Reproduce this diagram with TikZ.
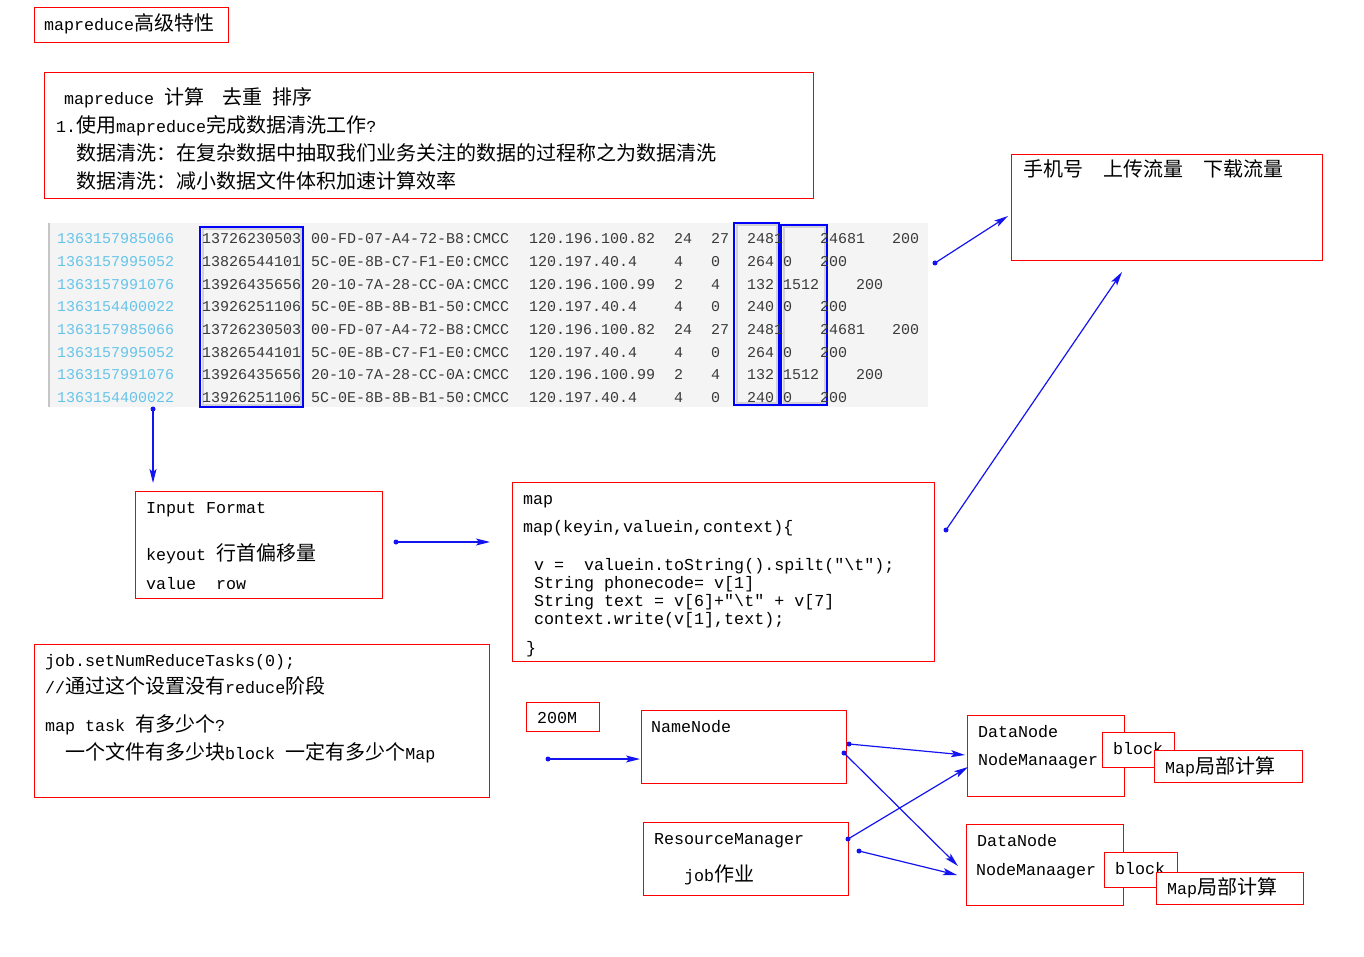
\documentclass[tikz,border=0pt]{standalone}
\usepackage{fontspec}
\setmainfont{Liberation Mono}[Ligatures=TeXOff]
\newfontfamily\cjk{Noto Sans CJK SC}[Scale=1.2]
\usetikzlibrary{arrows.meta,fit}
\newcommand\zh[1]{{\cjk #1}}
\newcommand\dq{\char34\relax}
\definecolor{boxred}{HTML}{FF0000}
\definecolor{arrowblue}{HTML}{1414F0}
\definecolor{tsblue}{HTML}{66C4EA}
\definecolor{tabgray}{HTML}{F4F4F4}
\definecolor{tabtext}{HTML}{3A3A3A}
\begin{document}
\begin{tikzpicture}[x=1pt,y=-1pt,
  redbox/.style={draw=boxred, line width=1pt, fill=white, inner sep=0pt},
  txt/.style={anchor=base west, inner sep=0pt, font=\fontsize{16.67}{20}\selectfont},
  tab/.style={anchor=base west, inner sep=0pt, font=\fontsize{15}{18}\selectfont, text=tabtext},
  hlbox/.style={draw=blue, line width=1.3pt},
  arr/.style={draw=arrowblue, line width=1.2pt, -{Stealth[length=14pt,width=7pt,inset=3pt]}},
  dotmark/.style={circle, fill=arrowblue, inner sep=0pt, minimum size=5pt}]
\useasboundingbox (0,0) rectangle (1364,957);
\fill[white] (0,0) rectangle (1364,957);

% title
\node[redbox, fit={(34,8) (228,43)}] (title) {};
\node[txt] (titletxt) at (44,31) {mapreduce\zh{高级特性}};

% intro box
\node[redbox, fit={(44,73) (813,199)}] (intro) {};
\node[txt] (l1) at (64,105) {mapreduce\hspace{10pt}\zh{计算}\hspace{18pt}\zh{去重}\hspace{10pt}\zh{排序}};
\node[txt] (l2) at (56,133) {1.\zh{使用}mapreduce\zh{完成数据清洗工作}?};
\node[txt] (l3) at (76,161) {\zh{数据清洗：在复杂数据中抽取我们业务关注的数据的过程称之为数据清洗}};
\node[txt] (l4) at (76,189) {\zh{数据清洗：减小数据文件体积加速计算效率}};

% table
\fill[tabgray] (48,223) rectangle (928,407);
\draw[gray!45, line width=1.5pt] (49,223) -- (49,407);
\draw[gray!60, line width=2pt, opacity=0.5] (202.5,229.5) rectangle (300.5,404.5);
\draw[gray!60, line width=2pt, opacity=0.5] (736.5,225.5) rectangle (776.5,402.5);
\draw[gray!60, line width=2pt, opacity=0.5] (783.5,227.5) rectangle (824.5,402.5);
\node[hlbox, inner sep=0pt, fit={(200,227) (303,407)}] (hlphone) {};
\node[hlbox, inner sep=0pt, fit={(734,223) (779,405)}] (hlup) {};
\node[hlbox, inner sep=0pt, fit={(781,225) (827,405)}] (hldown) {};

\foreach \r/\ts/\ph/\mac/\ip/\a/\b/\c in {
  1/1363157985066/13726230503/00-FD-07-A4-72-B8:CMCC/120.196.100.82/24/27/2481,
  2/1363157995052/13826544101/5C-0E-8B-C7-F1-E0:CMCC/120.197.40.4/4/0/264,
  3/1363157991076/13926435656/20-10-7A-28-CC-0A:CMCC/120.196.100.99/2/4/132,
  4/1363154400022/13926251106/5C-0E-8B-8B-B1-50:CMCC/120.197.40.4/4/0/240,
  5/1363157985066/13726230503/00-FD-07-A4-72-B8:CMCC/120.196.100.82/24/27/2481,
  6/1363157995052/13826544101/5C-0E-8B-C7-F1-E0:CMCC/120.197.40.4/4/0/264,
  7/1363157991076/13926435656/20-10-7A-28-CC-0A:CMCC/120.196.100.99/2/4/132,
  8/1363154400022/13926251106/5C-0E-8B-8B-B1-50:CMCC/120.197.40.4/4/0/240}{
  \pgfmathsetmacro\yy{239+22.65*(\r-1)+5}
  \node[tab, text=tsblue] (ts\r) at (57,\yy) {\ts};
  \node[tab] (ph\r) at (202,\yy) {\ph};
  \node[tab] (mac\r) at (311,\yy) {\mac};
  \node[tab] (ip\r) at (529,\yy) {\ip};
  \node[tab] (ca\r) at (674,\yy) {\a};
  \node[tab] (cb\r) at (711,\yy) {\b};
  \node[tab] (cc\r) at (747,\yy) {\c};
}
\foreach \r/\x/\t/\n in {
  1/820/24681/a, 1/892/200/b, 2/783/0/a, 2/820/200/b, 3/783/1512/a, 3/856/200/b, 4/783/0/a, 4/820/200/b,
  5/820/24681/a, 5/892/200/b, 6/783/0/a, 6/820/200/b, 7/783/1512/a, 7/856/200/b, 8/783/0/a, 8/820/200/b}{
  \pgfmathsetmacro\yy{239+22.65*(\r-1)+5}
  \node[tab] (cx\r\n) at (\x,\yy) {\t};
}

% right top box
\node[redbox, fit={(1011,155) (1322,261)}] (flow) {};
\node[txt] (flowtxt) at (1023,177) {\zh{手机号}\hspace{20pt}\zh{上传流量}\hspace{20pt}\zh{下载流量}};

% input format
\node[redbox, fit={(135,491) (382,598)}] (input) {};
\node[txt] (in1) at (146,513) {Input Format};
\node[txt] (in2) at (146,560) {keyout \zh{行首偏移量}};
\node[txt] (in3) at (146,589) {value\hspace{20pt}row};

% map box
\node[redbox, fit={(512,482) (934,661)}] (map) {};
\node[txt] (m1) at (523,504) {map};
\node[txt] (m2) at (523,532) {map(keyin,valuein,context)\{};
\node[txt] (m3) at (534,570) {v =\ \ valuein.toString().spilt(\dq\textbackslash t\dq);};
\node[txt] (m4) at (534,588) {String phonecode= v[1]};
\node[txt] (m5) at (534,606) {String text = v[6]+\dq\textbackslash t\dq\ + v[7]};
\node[txt] (m6) at (534,624) {context.write(v[1],text);};
\node[txt] (m7) at (526,653) {\}};

% job box
\node[redbox, fit={(34,644) (489,797)}] (job) {};
\node[txt] (j1) at (45,666) {job.setNumReduceTasks(0);};
\node[txt] (j2) at (45,693) {//\zh{通过这个设置没有}reduce\zh{阶段}};
\node[txt] (j3) at (45,731) {map task \zh{有多少个}?};
\node[txt] (j4) at (65,759) {\zh{一个文件有多少块}block \zh{一定有多少个}Map};

% HDFS / YARN
\node[redbox, fit={(526,702) (599,731)}] (size) {};
\node[txt] (sizetxt) at (537,723) {200M};
\node[redbox, fit={(641,710) (846,783)}] (nn) {};
\node[txt] (nntxt) at (651,732) {NameNode};
\node[redbox, fit={(643,822) (848,895)}] (rm) {};
\node[txt] (rmtxt) at (654,844) {ResourceManager};
\node[txt] (rmjob) at (684,881) {job\zh{作业}};

\node[redbox, fit={(967,715) (1124,796)}] (dn1) {};
\node[txt] (dn1a) at (978,737) {DataNode};
\node[txt] (dn1b) at (978,765) {NodeManaager};
\node[redbox, fit={(1102,732) (1174,767)}] (blk1) {};
\node[txt] (blk1t) at (1113,754) {block};
\node[redbox, fit={(1154,750) (1302,782)}] (mp1) {};
\node[txt] (mp1t) at (1165,773) {Map\zh{局部计算}};

\node[redbox, fit={(966,824) (1123,905)}] (dn2) {};
\node[txt] (dn2a) at (977,846) {DataNode};
\node[txt] (dn2b) at (976,875) {NodeManaager};
\node[redbox, fit={(1104,852) (1177,887)}] (blk2) {};
\node[txt] (blk2t) at (1115,874) {block};
\node[redbox, fit={(1156,872) (1303,904)}] (mp2) {};
\node[txt] (mp2t) at (1167,894) {Map\zh{局部计算}};

% arrows
\coordinate (a1s) at (935,263); \coordinate (a1e) at (1008,216);
\coordinate (a2s) at (946,530); \coordinate (a2e) at (1122,272);
\coordinate (a3s) at (153,409); \coordinate (a3e) at (153,483);
\coordinate (a4s) at (396,542); \coordinate (a4e) at (490,542);
\coordinate (a5s) at (548,759); \coordinate (a5e) at (640,759);
\coordinate (a6s) at (849,744); \coordinate (a6e) at (965,755);
\coordinate (a7s) at (844,753); \coordinate (a7e) at (958,866);
\coordinate (a8s) at (848,839); \coordinate (a8e) at (968,767);
\coordinate (a9s) at (859,851); \coordinate (a9e) at (957,875);
\foreach \i in {1,...,9}{
  \draw[arr] (a\i s) -- (a\i e);
  \node[dotmark] (d\i) at (a\i s) {};
}
\end{tikzpicture}
\end{document}
